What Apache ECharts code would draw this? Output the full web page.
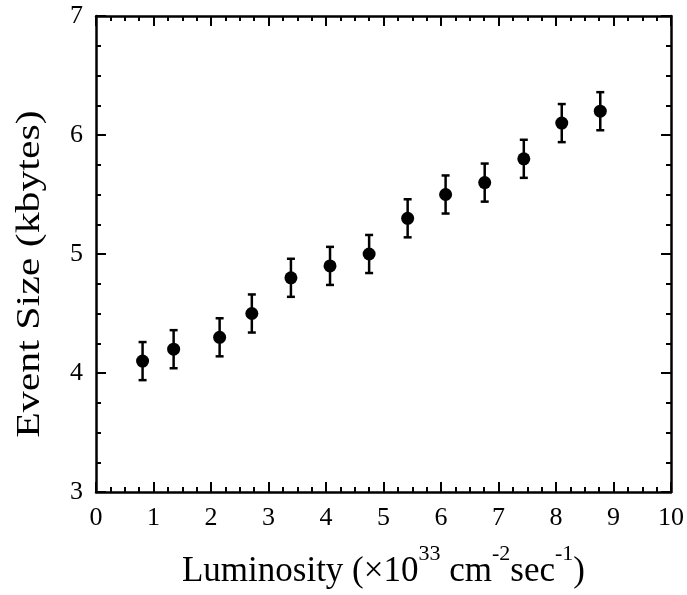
<!DOCTYPE html>
<html>
<head>
<meta charset="utf-8">
<script src="https://cdn.jsdelivr.net/npm/echarts@6/dist/echarts.min.js"></script>
<style>
html,body{margin:0;padding:0;background:#fff;}
#chart{width:687px;height:595px;}
</style>
</head>
<body>
<div id="chart"></div>
<script>
// Luminosity (x10^33 cm^-2 s^-1)
var luminosity = [0.81, 1.35, 2.15, 2.71, 3.39, 4.07, 4.75, 5.42, 6.08, 6.76, 7.44, 8.10, 8.77];
// Event size (kbytes)
var eventSize = [4.10, 4.20, 4.30, 4.50, 4.80, 4.90, 5.00, 5.30, 5.50, 5.60, 5.80, 6.10, 6.20];
// Error (half-length of error bars)
var eventErr = [0.16, 0.16, 0.16, 0.16, 0.16, 0.16, 0.16, 0.16, 0.16, 0.16, 0.16, 0.16, 0.16];

var xRange = {min: 0, max: 10, interval: 1};
var yRange = {min: 3, max: 7, interval: 1};

var FONT = '"Liberation Serif", "Times New Roman", serif';

var points = luminosity.map(function (x, i) { return [x, eventSize[i]]; });
var bars = luminosity.map(function (x, i) { return [x, eventSize[i] - eventErr[i], eventSize[i] + eventErr[i]]; });

function axisCommon(showLabel) {
  return {
    axisLine: {show: true, onZero: false, lineStyle: {color: '#000', width: 2.5}},
    axisTick: {show: true, inside: true, length: 10, lineStyle: {color: '#000', width: 2}},
    minorTick: {show: true, splitNumber: 4, length: 5, lineStyle: {color: '#000', width: 2}},
    splitLine: {show: false},
    axisLabel: {show: showLabel, color: '#000', fontFamily: FONT, fontSize: 26, margin: 13}
  };
}

var chart = echarts.init(document.getElementById('chart'), null, {renderer: 'canvas'});
var option = {
  backgroundColor: '#fff',
  animation: false,
  grid: {left: 96, right: 13, top: 16, bottom: 103},
  graphic: [
    {
      type: 'text',
      x: 30, y: 274,
      rotation: Math.PI / 2,
      scaleX: 1.23,
      style: {
        text: 'Event Size (kbytes)',
        fill: '#000',
        font: '34px "Liberation Serif", "Times New Roman", serif',
        align: 'center',
        verticalAlign: 'middle'
      }
    }
  ],
  xAxis: [
    Object.assign({type: 'value', position: 'bottom', min: xRange.min, max: xRange.max, interval: xRange.interval,
      name: '{a|Luminosity (\u00d710}{s|33}{a| cm}{s|-2}{a|sec}{s|-1}{a|)}',
      nameLocation: 'middle', nameGap: 51,
      nameTextStyle: {
        color: '#000', fontFamily: FONT,
        rich: {
          a: {fontSize: 35, fontFamily: FONT, color: '#000', lineHeight: 46, verticalAlign: 'bottom'},
          s: {fontSize: 22, fontFamily: FONT, color: '#000', lineHeight: 46, verticalAlign: 'top'}
        }
      }
    }, axisCommon(true)),
    Object.assign({type: 'value', position: 'top', min: xRange.min, max: xRange.max, interval: xRange.interval}, axisCommon(false))
  ],
  yAxis: [
    Object.assign({type: 'value', position: 'left', min: yRange.min, max: yRange.max, interval: yRange.interval}, axisCommon(true)),
    Object.assign({type: 'value', position: 'right', min: yRange.min, max: yRange.max, interval: yRange.interval}, axisCommon(false))
  ],
  series: [
    {
      type: 'custom',
      xAxisIndex: 0, yAxisIndex: 0,
      data: bars,
      renderItem: function (params, api) {
        var x = api.value(0);
        var lo = api.coord([x, api.value(1)]);
        var hi = api.coord([x, api.value(2)]);
        var cw = 4;
        var style = {stroke: '#000', lineWidth: 2.5};
        return {
          type: 'group',
          children: [
            {type: 'line', shape: {x1: lo[0], y1: lo[1], x2: hi[0], y2: hi[1]}, style: style},
            {type: 'line', shape: {x1: lo[0] - cw, y1: lo[1], x2: lo[0] + cw, y2: lo[1]}, style: style},
            {type: 'line', shape: {x1: hi[0] - cw, y1: hi[1], x2: hi[0] + cw, y2: hi[1]}, style: style}
          ]
        };
      },
      z: 2
    },
    {
      type: 'scatter',
      xAxisIndex: 0, yAxisIndex: 0,
      data: points,
      symbol: 'circle',
      symbolSize: 13,
      itemStyle: {color: '#000', opacity: 1},
      z: 3
    }
  ]
};
chart.setOption(option);
</script>
</body>
</html>
